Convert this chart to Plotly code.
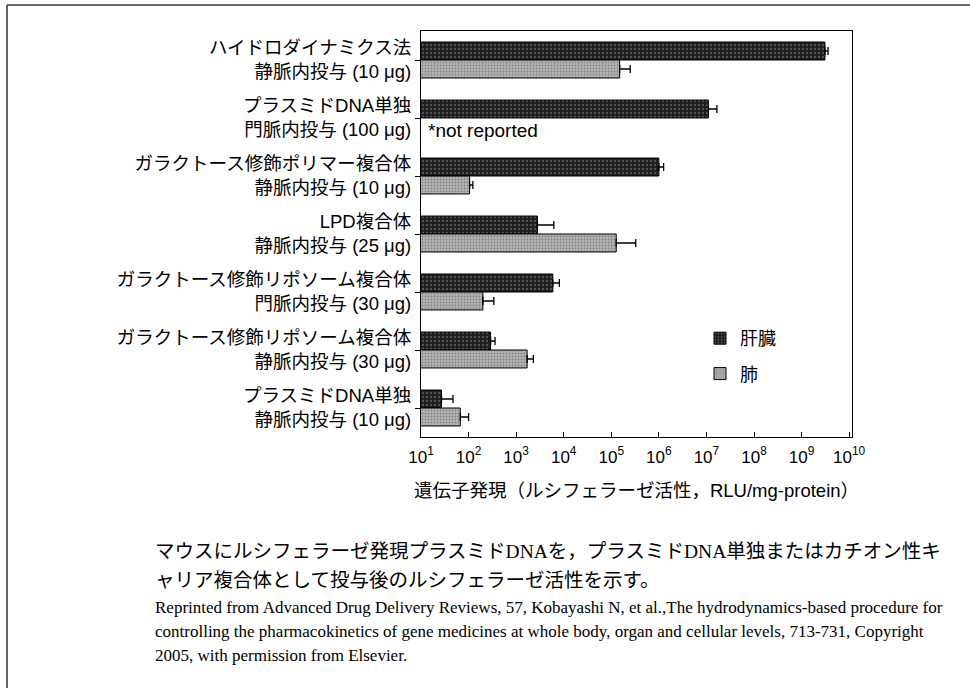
import plotly.graph_objects as go

# Delivery methods (top to bottom)
categories = [
    "ハイドロダイナミクス法<br>静脈内投与 (10 μg)",
    "プラスミドDNA単独<br>門脈内投与 (100 μg)",
    "ガラクトース修飾ポリマー複合体<br>静脈内投与 (10 μg)",
    "LPD複合体<br>静脈内投与 (25 μg)",
    "ガラクトース修飾リポソーム複合体<br>門脈内投与 (30 μg)",
    "ガラクトース修飾リポソーム複合体<br>静脈内投与 (30 μg)",
    "プラスミドDNA単独<br>静脈内投与 (10 μg)",
]

# Luciferase activity (RLU/mg protein) and upper error (S.D.)
liver = [3.1e9, 1.1e7, 1.0e6, 2.8e3, 5.9e3, 2.9e2, 27]
liver_sd = [0.5e9, 0.56e7, 0.26e6, 3.4e3, 2.2e3, 70, 20]
lung = [1.5e5, None, 1.05e2, 1.27e5, 2.0e2, 1.7e3, 67]
lung_sd = [1.0e5, None, 18, 2.0e5, 140, 600, 33]

tick_vals = [10 ** k for k in range(1, 11)]
tick_text = [f"10<sup>{k}</sup>" for k in range(1, 11)]

series_names = ["肝臓", "肺"]

W, H = 970, 688
L, R, T, B = 421, 118, 31, 251
plot_w = W - L - R
plot_h = H - T - B


def px(x_pix):
    return (x_pix - L) / plot_w


def py(y_pix):
    return (H - B - y_pix) / plot_h


SANS = "Liberation Sans, Arial, Noto Sans CJK JP"
SERIF = "Liberation Serif, Times New Roman, Noto Sans CJK JP"

fig = go.Figure()

fig.add_trace(go.Bar(
    name=series_names[0], legendgroup="liver",
    y=categories, x=liver, orientation="h",
    error_x=dict(type="data", array=liver_sd, arrayminus=[0] * len(liver),
                 symmetric=False, color="black", thickness=1.3, width=4),
    marker=dict(color="#262626", line=dict(color="black", width=1),
                pattern=dict(shape=".", bgcolor="#1e1e1e", fgcolor="#8c8c8c",
                             size=4, solidity=0.25)),
))
fig.add_trace(go.Bar(
    name=series_names[1], legendgroup="lung",
    y=categories, x=lung, orientation="h",
    error_x=dict(type="data", array=lung_sd, arrayminus=[0] * len(lung),
                 symmetric=False, color="black", thickness=1.3, width=4),
    marker=dict(color="#aaaaaa", line=dict(color="black", width=1),
                pattern=dict(shape=".", bgcolor="#b4b4b4", fgcolor="#505050",
                             size=3, solidity=0.3)),
))

fig.update_layout(
    width=W, height=H,
    margin=dict(l=L, r=R, t=T, b=B, pad=0, autoexpand=False),
    paper_bgcolor="white", plot_bgcolor="white",
    barmode="group", bargap=0.38, bargroupgap=0,
    font=dict(family=SANS, size=18, color="black"),
    showlegend=True,
    legend=dict(
        xref="paper", yref="paper",
        x=px(700), y=py(320), xanchor="left", yanchor="top",
        bgcolor="rgba(0,0,0,0)", borderwidth=0,
        tracegroupgap=9, font=dict(size=18),
    ),
    xaxis=dict(
        type="log", range=[1, 10.06], automargin=False,
        tickvals=tick_vals, ticktext=tick_text, tickangle=0,
        ticks="inside", ticklen=5, tickcolor="black",
        ticklabelstandoff=4,
        showline=True, mirror=True, linecolor="black", linewidth=1.2,
        showgrid=False, zeroline=False,
        tickfont=dict(size=17),
        title=dict(text="遺伝子発現（ルシフェラーゼ活性，RLU/mg-protein）",
                   font=dict(size=18.5), standoff=18),
    ),
    yaxis=dict(
        type="category", autorange="reversed", automargin=False,
        ticks="outside", ticklen=5, tickcolor="black",
        showline=True, mirror=True, linecolor="black", linewidth=1.2,
        showgrid=False, tickfont=dict(size=18.5),
    ),
)

# note for the missing lung value
fig.add_annotation(x=1.1, y=1.22, xref="x", yref="y", text="*not reported",
                   showarrow=False, xanchor="left", yanchor="middle",
                   font=dict(size=19))

# caption beneath the chart
caption_jp = [
    "マウスにルシフェラーゼ発現プラスミドDNAを，プラスミドDNA単独またはカチオン性キ",
    "ャリア複合体として投与後のルシフェラーゼ活性を示す。",
]
caption_en = [
    "Reprinted from Advanced Drug Delivery Reviews, 57, Kobayashi N, et al.,The hydrodynamics-based procedure for",
    "controlling the pharmacokinetics of gene medicines at whole body, organ and cellular levels, 713-731, Copyright",
    "2005, with permission from Elsevier.",
]
for i, line in enumerate(caption_jp):
    fig.add_annotation(x=px(153), y=py(551 + 29 * i), xref="paper", yref="paper",
                       text=line, showarrow=False, xanchor="left", yanchor="middle",
                       font=dict(family=SERIF, size=19.5))
for i, line in enumerate(caption_en):
    fig.add_annotation(x=px(153), y=py(607 + 24 * i), xref="paper", yref="paper",
                       text=line, showarrow=False, xanchor="left", yanchor="middle",
                       font=dict(family=SERIF, size=17))

# outer frame (top and left edges)
fig.add_shape(type="line", xref="paper", yref="paper",
              x0=px(7), x1=px(970), y0=py(5), y1=py(5),
              line=dict(color="#333333", width=1.5))
fig.add_shape(type="line", xref="paper", yref="paper",
              x0=px(7), x1=px(7), y0=py(5), y1=py(688),
              line=dict(color="#333333", width=1.5))

fig.write_html("out.html")
